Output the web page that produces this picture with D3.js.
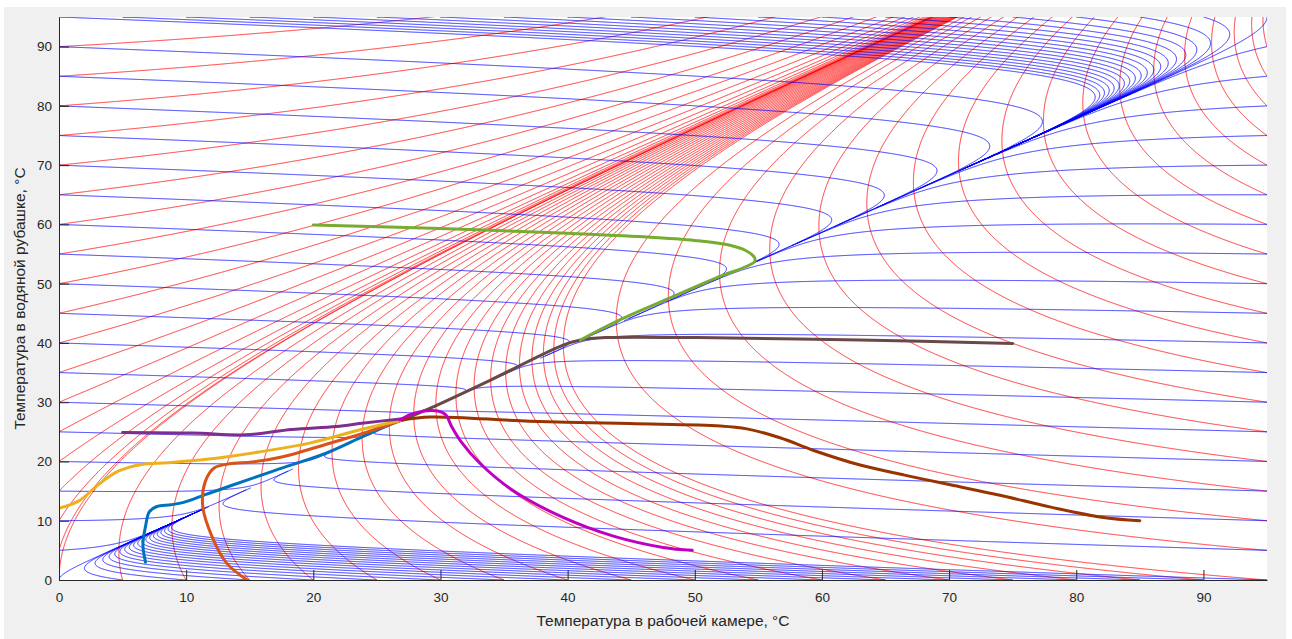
<!DOCTYPE html>
<html><head><meta charset="utf-8">
<script src="https://cdn.jsdelivr.net/npm/d3@7"></script>
<style>
body{margin:0;background:#fff;}
text{font-family:"Liberation Sans",Arial,Helvetica,sans-serif;}
</style></head><body>
<svg id="c" width="1292" height="639"></svg>
<script>
// ---------- data ----------
const xTicks = [0,10,20,30,40,50,60,70,80,90];
const yTicks = [0,10,20,30,40,50,60,70,80,90];
const xLabel = "Температура в рабочей камере, °C";
const yLabel = "Температура в водяной рубашке, °C";

// start levels of the background phase trajectories on the edges of the box
const edgeLevels = [0,5,10,15,20,25,30,35,40,45,50,55,60,65,70,75,80,85,90,95];

// thermal model of the two modes (red = heating, blue = no heating)
const tAmbient = 27;      // ambient temperature
const kChamber = 1.0;     // chamber <- jacket exchange
const kJacket  = 0.056;   // jacket <- chamber exchange
const kLoss    = 0.042;   // jacket loss to ambient
const modeRed  = {heat: 39.9, conv: 1/80, sat: 0.0012, tEnd: 40};
const modeBlue = {heat: 0.0,  conv: 0,    sat: 0,      tEnd: 10};

// measured transients
const trajBlue = [[6.8,3.0],[6.6,6.0],[6.8,9.0],[7.1,11.5],[7.7,12.4],[8.8,12.7],[9.8,13.1],[11.5,14.4],[13.5,15.9],[17.0,18.5],[21.0,21.4],[24.0,24.3],[26.9,27.0]];
const trajOrange = [[14.8,0],[13.2,2.8],[12.0,7.5],[11.3,12.5],[11.5,16.6],[12.2,18.9],[13.4,19.6],[15.2,19.9],[17.6,20.8],[21.5,23.2],[24.0,24.8],[27,27]];
const trajYellow = [[0,12.1],[1.6,13.4],[3.1,16.1],[4.7,18.4],[6.5,19.5],[8.6,19.8],[11.8,20.4],[15.7,21.6],[19.7,23.1],[23.6,25.3],[27,27]];
const trajPurple = [[5.0,24.9],[10.5,24.8],[14.7,24.5],[18.3,25.4],[21.8,25.9],[24.0,26.5],[27,27.2]];
const trajMagenta = [[26.8,27.0],[28.0,28.2],[29.8,28.5],[30.4,27.9],[30.9,25.8],[31.6,23.4],[33.1,19.7],[35.7,15.1],[39.6,10.6],[43.6,7.4],[47.5,5.5],[49.8,5.0]];
const trajBrown = [[85,10.0],[82,10.6],[78,12.3],[74,14.3],[70,16.1],[66.5,17.7],[63,19.4],[59.3,21.9],[56.7,24.0],[54.1,25.5],[52.0,26.0],[44.9,26.4],[37,26.8],[29.2,27.5],[27,27]];
const trajTaupe = [[75,39.9],[63,40.5],[50.2,40.9],[43.0,40.9],[41.0,40.5],[39.6,39.6],[33.9,33.7],[29.2,29.0],[27,27]];
const trajGreen = [[20,59.9],[30,59.3],[40,58.5],[46,57.9],[50,57.3],[52.5,56.6],[54.0,55.6],[54.7,54.4],[54.7,53.7],[51.7,51.0],[48.6,48.1],[44.1,43.9],[41,40.5]];

const transients = [
  {pts: trajBlue,    color: "#0072BD"},
  {pts: trajOrange,  color: "#D95319"},
  {pts: trajYellow,  color: "#EDB120"},
  {pts: trajPurple,  color: "#7E2F8E"},
  {pts: trajTaupe,   color: "#6B4848"},
  {pts: trajGreen,   color: "#77AC30"},
  {pts: trajBrown,   color: "#993300"},
  {pts: trajMagenta, color: "#C000C0"}
];

// ---------- layout ----------
const svg = d3.select("#c");
const L = 59, R = 1267, T = 17, B = 580;
const x = d3.scaleLinear().domain([0,95]).range([L,R]);
const y = d3.scaleLinear().domain([0,95]).range([B,T]);

svg.append("rect").attr("x",4).attr("y",7).attr("width",1282).attr("height",632).attr("fill","#f0f0f0");
svg.append("rect").attr("x",L).attr("y",T).attr("width",R-L).attr("height",B-T).attr("fill","#fff");

svg.append("clipPath").attr("id","clip").append("rect")
  .attr("x",L).attr("y",T).attr("width",R-L).attr("height",B-T);

// ---------- phase trajectories ----------
const SX = (R-L)/95, SY = (B-T)/95;
function field(px,py,m){
  const u = py-px;
  return [kChamber*(u + m.conv*u*Math.abs(u)),
          -kJacket*u - kLoss*(py-tAmbient) - m.sat*u*u + m.heat];
}
function trace(x0,y0,m){
  const pts=[[x0,y0]];
  let cx=x0, cy=y0, t=0;
  for(let i=0;i<20000 && t<m.tEnd;i++){
    const v=field(cx,cy,m);
    const sp=Math.hypot(v[0]*SX,v[1]*SY);
    if(sp<1e-6) break;
    const h=Math.min(0.05, 0.5/sp, m.tEnd-t);
    const k1=v;
    const k2=field(cx+h/2*k1[0],cy+h/2*k1[1],m);
    const k3=field(cx+h/2*k2[0],cy+h/2*k2[1],m);
    const k4=field(cx+h*k3[0],cy+h*k3[1],m);
    cx+=h/6*(k1[0]+2*k2[0]+2*k3[0]+k4[0]);
    cy+=h/6*(k1[1]+2*k2[1]+2*k3[1]+k4[1]);
    t+=h;
    pts.push([cx,cy]);
    if(cx<-0.3||cx>95.3||cy<-0.3||cy>95.3) break;
  }
  return pts;
}
const lineGen = d3.line().x(d=>x(d[0])).y(d=>y(d[1]));
const field_g = svg.append("g").attr("clip-path","url(#clip)");

function starts(){
  const s=[];
  edgeLevels.forEach(v=>{ s.push([0,v]); });
  edgeLevels.forEach(v=>{ if(v>0) s.push([v,0]); });
  edgeLevels.forEach(v=>{ if(v>0) s.push([95,v]); });
  edgeLevels.forEach(v=>{ if(v>0 && v<95) s.push([v,95]); });
  return s;
}
const redG = field_g.append("g");
starts().forEach(p=>{
  const t=trace(p[0],p[1],modeRed);
  if(t.length>2) redG.append("path").attr("d",lineGen(t)).attr("fill","none").attr("stroke","#ff0000").attr("stroke-width",0.8);
});
const blueG = field_g.append("g");
starts().forEach(p=>{
  const t=trace(p[0],p[1],modeBlue);
  if(t.length>2) blueG.append("path").attr("d",lineGen(t)).attr("fill","none").attr("stroke","#0000ff").attr("stroke-width",0.8);
});

// ---------- transients ----------
const smooth = d3.line().x(d=>x(d[0])).y(d=>y(d[1])).curve(d3.curveCatmullRom.alpha(0.5));
const trG = svg.append("g").attr("clip-path","url(#clip)");
transients.forEach(t=>{
  trG.append("path").attr("d",smooth(t.pts)).attr("fill","none")
    .attr("stroke",t.color).attr("stroke-width",3).attr("stroke-linecap","round").attr("stroke-linejoin","round");
});

// ---------- axes ----------
const axCol="#262626";
const gx = svg.append("g").attr("transform",`translate(0,${B})`)
  .call(d3.axisBottom(x).tickValues(xTicks).tickSizeInner(-10).tickSizeOuter(0).tickPadding(10));
const gy = svg.append("g").attr("transform",`translate(${L},0)`)
  .call(d3.axisLeft(y).tickValues(yTicks).tickSizeInner(-10).tickSizeOuter(0).tickPadding(7));
[gx,gy].forEach(g=>{
  g.selectAll("path").attr("stroke",axCol).attr("stroke-width",1);
  g.selectAll("line").attr("stroke",axCol);
  g.selectAll("text").attr("fill",axCol).style("font-size","13.5px").style("font-family","'Liberation Sans',Arial,sans-serif");
});
gx.selectAll("text").attr("dy","0.9em");

svg.append("text").attr("x",(L+R)/2).attr("y",626).attr("text-anchor","middle")
  .attr("fill",axCol).style("font-size","15.5px").text(xLabel);
svg.append("text").attr("transform",`translate(25,${(T+B)/2}) rotate(-90)`).attr("text-anchor","middle")
  .attr("fill",axCol).style("font-size","15.5px").text(yLabel);
</script>
</body></html>
